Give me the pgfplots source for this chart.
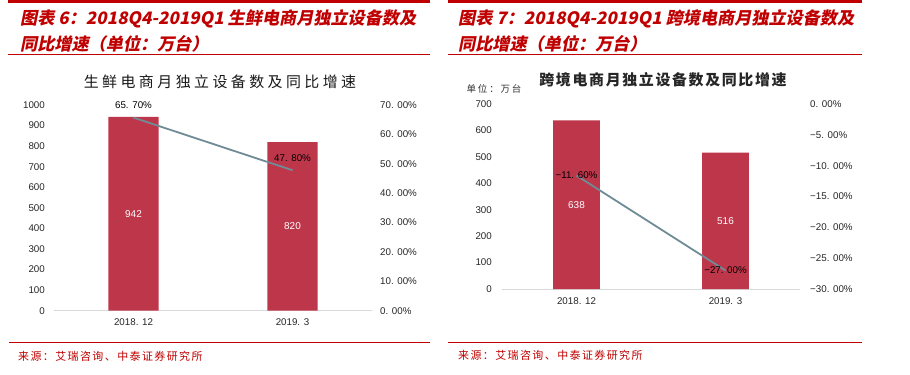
\documentclass[border=0pt]{standalone}
\usepackage{pgfplots}
\pgfplotsset{compat=1.18}
\usepackage{fontspec}
\setmainfont{Liberation Sans}
\newfontfamily\hdrfont[FakeSlant=0.2]{Noto Sans CJK SC}
\newfontfamily\titleA[LetterSpace=23]{Noto Sans CJK SC}
\newfontfamily\titleB[LetterSpace=11]{Noto Sans CJK SC}
\newfontfamily\unitfont[LetterSpace=20]{Noto Sans CJK SC}
\newfontfamily\srcfont[LetterSpace=13]{Noto Sans CJK SC}

\definecolor{barred}{RGB}{190,54,74}
\definecolor{linecol}{RGB}{111,140,150}
\definecolor{hdrred}{RGB}{192,0,0}
\definecolor{axgray}{RGB}{217,217,217}

\pgfplotsset{
  baraxis/.style={scale only axis, anchor=south west, xmin=-0.5, xmax=1.5, ymin=0,
    axis x line*=bottom, axis y line*=left,
    y axis line style={draw=none},
    x axis line style={draw=axgray, line width=0.8bp, -},
    major tick length=0, xtick={0,1}, xticklabels={2018. 12,2019. 3},
    tick label style={font=\fontsize{9.8}{11}\selectfont, text=black!85, inner sep=0pt},
    xticklabel style={anchor=base, yshift=-15bp},
    yticklabel style={anchor=east, xshift=-9bp},
    clip=false},
  lineaxis/.style={scale only axis, anchor=south west, xmin=-0.5, xmax=1.5,
    hide x axis, axis y line*=right,
    y axis line style={draw=none},
    major tick length=0,
    tick label style={font=\fontsize{9.8}{11}\selectfont, text=black!85, inner sep=0pt},
    yticklabel style={anchor=west, xshift=8bp},
    clip=false},
}

\begin{document}
\begin{tikzpicture}
\begin{scope}[x=1bp,y=1bp]
\fill[white] (0,0) rectangle (910,374);

% ---------- headers ----------
\draw[hdrred, line width=3bp] (8,372.5) -- (430,372.5);
\draw[hdrred, line width=3bp] (448,372.5) -- (862,372.5);
\draw[hdrred, line width=1bp] (8,319.5) -- (430,319.5);
\draw[hdrred, line width=1bp] (448,319.5) -- (862,319.5);
\node[anchor=base west, inner sep=0, text=hdrred] at (20,350)
  {\hdrfont\bfseries\fontsize{17.2}{20}\selectfont 图表 6：2018Q4-2019Q1 生鲜电商月独立设备数及};
\node[anchor=base west, inner sep=0, text=hdrred] at (20,324)
  {\hdrfont\bfseries\fontsize{17.2}{20}\selectfont 同比增速（单位：万台）};
\node[anchor=base west, inner sep=0, text=hdrred] at (458,350)
  {\hdrfont\bfseries\fontsize{17.2}{20}\selectfont 图表 7：2018Q4-2019Q1 跨境电商月独立设备数及};
\node[anchor=base west, inner sep=0, text=hdrred] at (458,324)
  {\hdrfont\bfseries\fontsize{17.2}{20}\selectfont 同比增速（单位：万台）};

% ---------- titles ----------
\node[inner sep=0, text=black!90] at (220,292) {\titleA\fontsize{15}{18}\selectfont 生鲜电商月独立设备数及同比增速};
\node[inner sep=0, text=black!85] at (663,294) {\titleB\bfseries\fontsize{15}{18}\selectfont 跨境电商月独立设备数及同比增速};
\node[inner sep=0, text=black!80] at (494,285) {\unitfont\fontsize{9.5}{11}\selectfont 单位：万台};

% ---------- footers ----------
\draw[hdrred, line width=1bp] (9,32) -- (430,32);
\draw[hdrred, line width=1bp] (448,32) -- (862,32);
\node[anchor=west, inner sep=0, text=hdrred] at (18,18) {\srcfont\fontsize{11}{13}\selectfont 来源：艾瑞咨询、中泰证券研究所};
\node[anchor=west, inner sep=0, text=hdrred] at (458,19) {\srcfont\fontsize{11}{13}\selectfont 来源：艾瑞咨询、中泰证券研究所};
\end{scope}

% ---------- panel 1 ----------
\begin{axis}[baraxis, at={(54bp,63.3bp)}, width=318bp, height=205.7bp, ymax=1000,
  ytick={0,100,...,1000},
  yticklabels={0,100,200,300,400,500,600,700,800,900,1000}]
\addplot[ybar, bar width=0.315, fill=barred, draw=none] coordinates {(0,942) (1,820)};
\addplot[draw=none, mark=none, nodes near coords, point meta=explicit symbolic,
  every node near coord/.append style={anchor=center, text=white, font=\fontsize{10}{12}\selectfont}]
  coordinates {(0,471) [942] (1,410) [820]};
\end{axis}
\begin{axis}[lineaxis, at={(54bp,63.3bp)}, width=318bp, height=205.7bp, ymin=0, ymax=70,
  ytick={0,10,...,70},
  yticklabels={0. 00\%,10. 00\%,20. 00\%,30. 00\%,40. 00\%,50. 00\%,60. 00\%,70. 00\%}]
\addplot[linecol, line width=1.8bp, mark=none, nodes near coords, point meta=explicit symbolic,
  every node near coord/.append style={anchor=center, yshift=12.5bp, text=black, font=\fontsize{9.8}{11}\selectfont}]
  coordinates {(0,65.7) [65. 70\%] (1,47.8) [47. 80\%]};
\end{axis}

% ---------- panel 2 ----------
\begin{axis}[baraxis, at={(502bp,85bp)}, width=298bp, height=185bp, ymax=700,
  ytick={0,100,...,700},
  yticklabels={0,100,200,300,400,500,600,700},
  yticklabel style={xshift=-1bp}]
\addplot[ybar, bar width=0.315, fill=barred, draw=none] coordinates {(0,638) (1,516)};
\addplot[draw=none, mark=none, nodes near coords, point meta=explicit symbolic,
  every node near coord/.append style={anchor=center, text=white, font=\fontsize{10}{12}\selectfont}]
  coordinates {(0,319) [638] (1,258) [516]};
\end{axis}
\begin{axis}[lineaxis, at={(502bp,85bp)}, width=298bp, height=185bp, ymin=-30, ymax=0,
  ytick={-30,-25,...,0},
  yticklabels={−30. 00\%,−25. 00\%,−20. 00\%,−15. 00\%,−10. 00\%,−5. 00\%,0. 00\%},
  yticklabel style={xshift=2bp}]
\addplot[linecol, line width=1.8bp, mark=none, nodes near coords, point meta=explicit symbolic,
  every node near coord/.append style={anchor=center, text=black, font=\fontsize{9.8}{11}\selectfont}]
  coordinates {(0,-11.6) [−11. 60\%] (1,-27) [−27. 00\%]};
\end{axis}
\end{tikzpicture}
\end{document}
